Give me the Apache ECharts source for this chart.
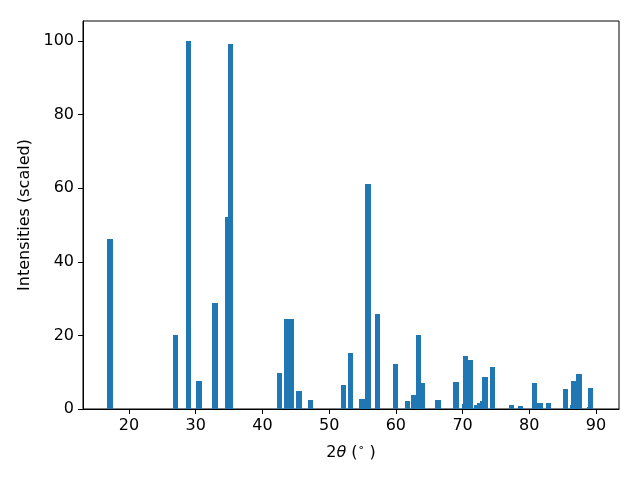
<!DOCTYPE html>
<html>
<head>
<meta charset="utf-8">
<script src="https://cdn.jsdelivr.net/npm/echarts@6/dist/echarts.min.js"></script>
<style>html,body{margin:0;padding:0;background:#fff}#c{width:640px;height:480px}</style>
</head>
<body>
<div id="c"></div>
<script>
// Peak positions (2θ, degrees) and scaled intensities
const twoTheta = [17.15, 26.97, 28.92, 30.49, 32.89, 34.80, 35.25, 42.56, 43.64, 44.34,
  45.49, 47.20, 52.16, 53.20, 54.90, 55.80, 57.25, 59.95, 61.75, 62.65,
  63.97, 63.43, 66.30, 69.00, 70.25, 70.43, 71.18, 72.10, 72.55, 73.00,
  73.37, 74.50, 77.35, 78.70, 80.80, 81.60, 82.85, 85.40, 86.53, 86.65,
  87.45, 89.06, 89.17];
const intensity = [46.3, 20.1, 100.0, 7.6, 28.8, 52.2, 99.2, 9.8, 24.5, 24.5,
  4.9, 2.4, 6.5, 15.2, 2.7, 61.1, 25.8, 12.2, 2.2, 3.8,
  7.1, 20.1, 2.4, 7.3, 1.4, 14.4, 13.3, 1.1, 1.6, 2.2,
  8.7, 11.4, 1.1, 0.8, 7.1, 1.6, 1.6, 5.4, 1.1, 7.6,
  9.5, 0.5, 5.7];
const xTicks = [20, 30, 40, 50, 60, 70, 80, 90];
const yTicks = [0, 20, 40, 60, 80, 100];
const barWidth = 0.8;

const data = twoTheta.map((t, i) => [t, intensity[i]]);
const font = 'DejaVu Sans';
const chart = echarts.init(document.getElementById('c'), null, {renderer: 'canvas'});
chart.setOption({
  animation: false,
  backgroundColor: '#fff',
  grid: {left: 83, right: 21, top: 21, bottom: 71, containLabel: false, outerBoundsMode: 'none',
    show: true, borderColor: '#000', borderWidth: 1, backgroundColor: 'transparent'},
  xAxis: {
    type: 'value', min: 13.1, max: 93.45,
    name: '{n|2}{i|θ}{n| (}{s|∘}{n| )}', nameLocation: 'middle', nameGap: 34,
    nameTextStyle: {rich: {
      n: {fontFamily: font, fontSize: 16, color: '#000'},
      i: {fontFamily: font, fontSize: 16, fontStyle: 'italic', color: '#000'},
      s: {fontFamily: font, fontSize: 11, color: '#000', verticalAlign: 'top', padding: [0, 0, 8, 0]}
    }},
    splitLine: {show: false},
    axisLine: {onZero: false, lineStyle: {color: '#000', width: 1}},
    axisTick: {show: true, length: 5, lineStyle: {color: '#000'}, customValues: xTicks},
    axisLabel: {fontFamily: font, fontSize: 16, color: '#000', margin: 9, customValues: xTicks}
  },
  yAxis: {
    type: 'value', min: 0, max: 105.4,
    name: 'Intensities (scaled)', nameLocation: 'middle', nameGap: 49, nameRotate: 90,
    nameTextStyle: {fontFamily: font, fontSize: 16, color: '#000'},
    splitLine: {show: false},
    axisLine: {show: true, lineStyle: {color: '#000', width: 1}},
    axisTick: {show: true, length: 5, lineStyle: {color: '#000'}, customValues: yTicks},
    axisLabel: {fontFamily: font, fontSize: 16, color: '#000', margin: 9, customValues: yTicks}
  },
  series: [{
    type: 'custom',
    data: data,
    encode: {x: 0, y: 1},
    renderItem: function (params, api) {
      const x = api.value(0), h = api.value(1);
      const p0 = api.coord([x - barWidth / 2, 0]);
      const p1 = api.coord([x + barWidth / 2, h]);
      const x0 = Math.round(p0[0]), x1 = Math.round(p1[0]);
      const y0 = Math.round(p0[1]), y1 = Math.round(p1[1]);
      return {
        type: 'rect',
        shape: {x: x0, y: y1, width: x1 - x0, height: y0 - y1},
        style: {fill: '#1f77b4'}
      };
    }
  }]
});
</script>
</body>
</html>
